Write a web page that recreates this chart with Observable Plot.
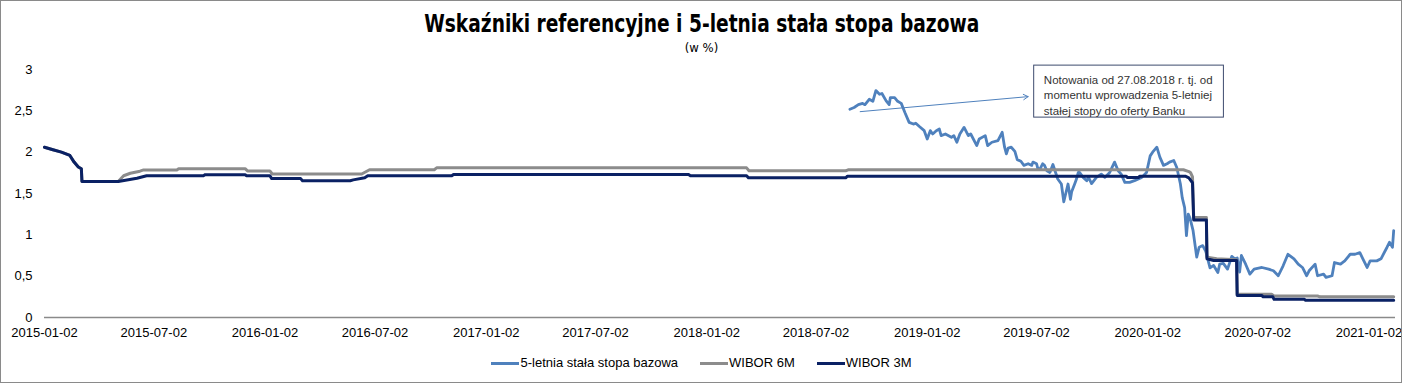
<!DOCTYPE html>
<html>
<head>
<meta charset="utf-8">
<script src="https://cdn.jsdelivr.net/npm/d3@7"></script>
<script src="https://cdn.jsdelivr.net/npm/@observablehq/plot@0.6"></script>
<style>
  html, body { margin: 0; padding: 0; background: #fff; }
  #frame { position: relative; width: 1403px; height: 383px; overflow: hidden; background: #fff;
           font-family: "Liberation Sans", Arial, sans-serif; color: #000; }
  #border { position: absolute; left: 0; top: 0; width: 1402px; height: 383px; border: 1px solid #8a8a8a;
            box-sizing: border-box; pointer-events: none; }
  #title { position: absolute; top: 10px; left: 0; width: 100%; text-align: center; }
  #title span { display: inline-block; font-family: "Liberation Sans Narrow", "DejaVu Sans Condensed", "Liberation Sans", sans-serif;
                font-size: 24px; font-weight: bold; line-height: 28px; white-space: nowrap; transform-origin: center; }
  #subtitle { position: absolute; top: 38px; left: 0; width: 100%; text-align: center; }
  #subtitle span { display: inline-block; font-family: "Liberation Sans Narrow", "DejaVu Sans Condensed", "Liberation Sans", sans-serif;
                   font-size: 13px; line-height: 15px; }
  #chart { position: absolute; top: 56px; left: 0; }
  #legend { position: absolute; top: 354px; left: 0; width: 100%; display: flex; justify-content: center;
            align-items: center; font-size: 13px; line-height: 18px; }
  .item { display: flex; align-items: center; margin: 0 11px; }
  .swatch { width: 28px; height: 3px; margin-right: 1px; }
</style>
</head>
<body>
<div id="frame">
  <div id="title"><span>Wskaźniki referencyjne i 5-letnia stała stopa bazowa</span></div>
  <div id="subtitle"><span>(w %)</span></div>
  <div id="chart"></div>
  <div id="legend"></div>
  <div id="border"></div>
</div>
<script>
// ---- data ----
const seriesNames = ["5-letnia stała stopa bazowa", "WIBOR 6M", "WIBOR 3M"];
const seriesColors = ["#4f81bd", "#8c8c8c", "#0a2164"];

const xTicks = ["2015-01-02","2015-07-02","2016-01-02","2016-07-02","2017-01-02","2017-07-02",
  "2018-01-02","2018-07-02","2019-01-02","2019-07-02","2020-01-02","2020-07-02","2021-01-02"];
const xDomain = ["2015-01-02", "2021-02-15"];
const yTicks = [0, 0.5, 1, 1.5, 2, 2.5, 3];

const w3mDates = ["2015-01-02","2015-01-16","2015-01-30","2015-02-13","2015-02-20","2015-02-27","2015-03-04","2015-03-05",
  "2015-05-04","2015-05-16","2015-06-04","2015-06-12","2015-06-20","2015-09-22","2015-09-25","2015-11-30","2015-12-02",
  "2016-01-10","2016-01-13","2016-03-01","2016-03-04","2016-05-22","2016-05-27","2016-06-15","2016-06-20","2016-11-06","2016-11-09",
  "2017-12-03","2017-12-06","2018-03-09","2018-03-12","2018-08-20","2018-08-23","2019-11-27","2019-11-29","2019-12-18","2019-12-20",
  "2020-03-04","2020-03-10","2020-03-13","2020-03-16","2020-03-18","2020-04-08","2020-04-09","2020-04-20","2020-05-28","2020-05-29",
  "2020-07-09","2020-07-11","2020-07-27","2020-07-29","2020-09-17","2020-09-19","2021-02-12"];
const w3mValues = [2.06,2.03,2.00,1.96,1.88,1.82,1.80,1.645,
  1.645,1.66,1.685,1.70,1.715,1.715,1.728,1.728,1.715,
  1.715,1.68,1.68,1.655,1.655,1.665,1.69,1.714,1.714,1.73,
  1.73,1.715,1.715,1.69,1.69,1.71,1.71,1.695,1.695,1.71,
  1.71,1.69,1.66,1.63,1.18,1.18,0.71,0.69,0.69,0.265,
  0.265,0.25,0.25,0.22,0.22,0.21,0.21];

const w6mDates = ["2015-01-02","2015-01-16","2015-01-30","2015-02-13","2015-02-20","2015-02-27","2015-03-04","2015-03-05",
  "2015-05-04","2015-05-13","2015-05-24","2015-06-09","2015-06-15","2015-08-09","2015-08-12","2015-11-30","2015-12-04",
  "2016-01-10","2016-01-14","2016-06-10","2016-06-23","2016-10-08","2016-10-12","2018-03-09","2018-03-13","2018-08-20","2018-08-24",
  "2020-03-01","2020-03-10","2020-03-13","2020-03-16","2020-03-18","2020-04-08","2020-04-09","2020-04-25","2020-05-28","2020-05-29",
  "2020-07-25","2020-07-29","2020-10-09","2020-10-13","2021-02-12"];
const w6mValues = [2.06,2.03,2.00,1.96,1.88,1.82,1.80,1.645,
  1.645,1.715,1.745,1.77,1.785,1.785,1.80,1.80,1.773,
  1.773,1.736,1.736,1.787,1.787,1.81,1.81,1.775,1.775,1.787,
  1.787,1.765,1.75,1.70,1.21,1.21,0.73,0.71,0.70,0.28,
  0.28,0.26,0.26,0.25,0.25];

const fixDates = ["2018-08-27","2018-09-03","2018-09-10","2018-09-17","2018-09-21","2018-09-28","2018-10-04","2018-10-09","2018-10-15",
  "2018-10-19","2018-10-26","2018-10-31","2018-11-02","2018-11-09","2018-11-14","2018-11-20","2018-11-26","2018-12-03","2018-12-10",
  "2018-12-14","2018-12-20","2018-12-28","2019-01-02","2019-01-07","2019-01-11","2019-01-17","2019-01-22","2019-01-25","2019-02-01",
  "2019-02-11","2019-02-15","2019-02-20","2019-02-25","2019-03-04","2019-03-11","2019-03-15","2019-03-25","2019-03-29","2019-04-08",
  "2019-04-12","2019-04-19","2019-04-29","2019-05-06","2019-05-10","2019-05-13","2019-05-16","2019-05-21","2019-05-27","2019-05-31",
  "2019-06-06","2019-06-11","2019-06-18","2019-06-24","2019-06-26","2019-07-02","2019-07-04","2019-07-08","2019-07-12","2019-07-15",
  "2019-07-19","2019-07-24","2019-07-29","2019-08-06","2019-08-12","2019-08-16","2019-08-23","2019-08-27","2019-08-29","2019-09-03",
  "2019-09-06","2019-09-09","2019-09-11","2019-09-17","2019-09-23","2019-09-26","2019-10-01","2019-10-09","2019-10-17","2019-10-23",
  "2019-10-31","2019-11-08","2019-11-14","2019-11-19","2019-11-25","2019-12-03","2019-12-11","2019-12-23","2019-12-31","2020-01-06",
  "2020-01-10","2020-01-17","2020-01-22","2020-01-28","2020-02-03","2020-02-07","2020-02-14","2020-02-19","2020-02-25","2020-02-28",
  "2020-03-03","2020-03-06","2020-03-09","2020-03-12","2020-03-17","2020-03-23","2020-03-27","2020-04-02","2020-04-07","2020-04-14",
  "2020-04-20","2020-04-27","2020-04-30","2020-05-06","2020-05-13","2020-05-20","2020-05-25","2020-05-29","2020-06-02","2020-06-05",
  "2020-06-12","2020-06-19","2020-06-26","2020-07-09","2020-07-20","2020-07-28","2020-08-05","2020-08-13","2020-08-21","2020-08-31",
  "2020-09-07","2020-09-14","2020-09-21","2020-09-25","2020-10-05","2020-10-09","2020-10-19","2020-10-23","2020-11-02","2020-11-06",
  "2020-11-16","2020-11-23","2020-12-02","2020-12-10","2020-12-18","2020-12-23","2020-12-30","2021-01-04","2021-01-15","2021-01-22",
  "2021-02-01","2021-02-05","2021-02-10","2021-02-12"];
const fixValues = [2.52,2.54,2.575,2.59,2.575,2.64,2.615,2.745,2.70,
  2.71,2.62,2.575,2.66,2.66,2.615,2.59,2.48,2.36,2.34,
  2.35,2.31,2.26,2.16,2.26,2.22,2.26,2.28,2.20,2.22,
  2.18,2.20,2.12,2.22,2.30,2.20,2.22,2.08,2.16,2.20,
  2.08,2.12,2.14,2.24,2.06,1.98,2.05,2.06,2.01,1.91,
  1.89,1.84,1.86,1.84,1.88,1.86,1.80,1.80,1.86,1.84,
  1.775,1.755,1.85,1.675,1.615,1.40,1.615,1.43,1.52,1.615,
  1.675,1.755,1.755,1.695,1.655,1.695,1.62,1.695,1.735,1.695,
  1.755,1.88,1.775,1.735,1.635,1.635,1.655,1.695,1.755,1.955,
  2.00,2.06,1.94,1.84,1.86,1.88,1.90,1.815,1.615,1.45,
  1.33,0.99,1.25,1.20,1.05,0.73,0.85,0.87,0.80,0.60,
  0.63,0.545,0.645,0.655,0.585,0.74,0.71,0.72,0.55,0.75,
  0.645,0.525,0.585,0.605,0.585,0.565,0.505,0.625,0.765,0.71,
  0.645,0.605,0.505,0.565,0.645,0.505,0.525,0.485,0.505,0.665,
  0.645,0.685,0.765,0.765,0.785,0.71,0.605,0.685,0.685,0.71,
  0.85,0.91,0.85,1.05];

// annotation (in data units)
const noteLines = ["Notowania od 27.08.2018 r. tj. od", "momentu wprowadzenia 5-letniej", "stałej stopy do oferty Banku"];
const noteBox = [{x1: "2019-06-28", x2: "2020-05-07", y1: 2.418, y2: 3.047}];
const noteTextPos = [{x: "2019-07-14", y: 2.70}];
const noteArrow = [{x1: "2018-09-13", y1: 2.49, x2: "2019-06-18", y2: 2.672}];

// ---- build ----
const toRows = (dates, values) => dates.map((d, i) => ({date: new Date(d), value: values[i]}));
const fix = toRows(fixDates, fixValues);
const w6m = toRows(w6mDates, w6mValues);
const w3m = toRows(w3mDates, w3mValues);
const D = s => new Date(s);

const chart = Plot.plot({
  width: 1403,
  height: 289,
  marginTop: 13,
  marginBottom: 28,
  marginLeft: 44,
  marginRight: 8,
  style: {fontFamily: "'Liberation Sans', Arial, sans-serif", fontSize: "13px", color: "#000", background: "transparent", overflow: "visible"},
  x: {type: "utc", domain: xDomain.map(D), ticks: xTicks.map(D), tickFormat: d3.utcFormat("%Y-%m-%d"), tickSize: 0, tickPadding: 10, label: null},
  y: {domain: [0, 3], ticks: yTicks, tickFormat: d => String(d).replace(".", ","), tickSize: 0, tickPadding: 12, label: null},
  marks: [
    Plot.ruleY([0], {stroke: "#8a8a8a", strokeWidth: 1.5}),
    Plot.line(fix, {x: "date", y: "value", stroke: seriesColors[0], strokeWidth: 2.8, strokeLinejoin: "round"}),
    Plot.line(w6m, {x: "date", y: "value", stroke: seriesColors[1], strokeWidth: 3, strokeLinejoin: "round"}),
    Plot.line(w3m, {x: "date", y: "value", stroke: seriesColors[2], strokeWidth: 3, strokeLinejoin: "round"}),
    Plot.arrow(noteArrow, {x1: d => D(d.x1), y1: "y1", x2: d => D(d.x2), y2: "y2", stroke: "#4f81bd", strokeWidth: 1, headLength: 8}),
    Plot.rect(noteBox, {x1: d => D(d.x1), x2: d => D(d.x2), y1: "y1", y2: "y2", fill: "#fff", stroke: "#3d4b6e", strokeWidth: 1}),
    Plot.text(noteTextPos, {x: d => D(d.x), y: "y", text: () => noteLines.join("\n"), textAnchor: "start", lineAnchor: "middle",
      lineHeight: 1.35, fontSize: 11.5, fill: "#333"})
  ]
});
document.getElementById("chart").appendChild(chart);

// legend
const legend = document.getElementById("legend");
seriesNames.forEach((name, i) => {
  const item = document.createElement("div");
  item.className = "item";
  const sw = document.createElement("span");
  sw.className = "swatch";
  sw.style.background = seriesColors[i];
  const tx = document.createElement("span");
  tx.textContent = name;
  item.appendChild(sw); item.appendChild(tx);
  legend.appendChild(item);
});

// fit the title width to the reference
const ts = document.querySelector("#title span");
const tw = ts.getBoundingClientRect().width;
ts.style.transform = `scaleX(${555 / tw})`;
</script>
</body>
</html>
